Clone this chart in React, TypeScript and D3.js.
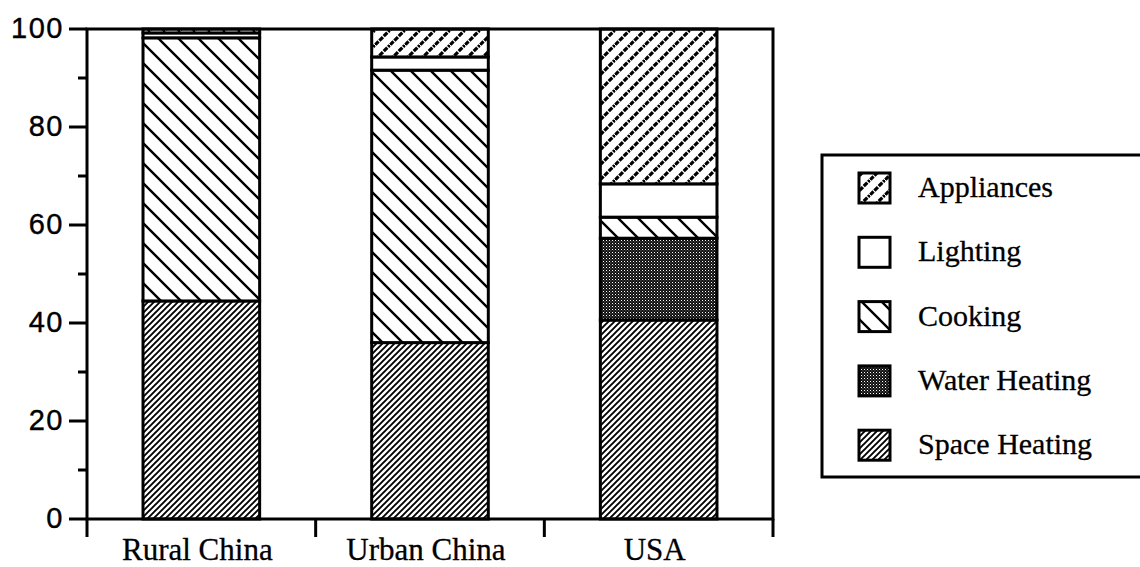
import React from "react";
import * as d3 from "d3";

const categories = ["Rural China", "Urban China", "USA"];
const spaceHeating = [44.5, 36, 40.6];
const waterHeating = [0, 0, 16.7];
const cooking = [53.7, 55.6, 4.3];
const lighting = [1, 2.7, 6.8];
const appliances = [0.8, 5.7, 31.6];

const seriesKeys = ["space", "water", "cooking", "lighting", "appliances"];
const legendOrder = ["appliances", "lighting", "cooking", "water", "space"];
const legendLabels = ["Appliances", "Lighting", "Cooking", "Water Heating", "Space Heating"];
const yTicks = [0, 20, 40, 60, 80, 100];
const yMinorTicks = [10, 30, 50, 70, 90];

const W = 1140;
const H = 567;
const left = 87;
const right = 773;
const top = 29;
const bottom = 519;

const fillFor: Record<string, string> = {
  space: "url(#pSpace)",
  water: "url(#pWater)",
  cooking: "url(#pCooking)",
  lighting: "#ffffff",
  appliances: "url(#pAppl)",
};

export default function App() {
  const table = categories.map((c, i) => ({
    cat: c,
    space: spaceHeating[i],
    water: waterHeating[i],
    cooking: cooking[i],
    lighting: lighting[i],
    appliances: appliances[i],
  }));
  const stacked = d3.stack<any>().keys(seriesKeys)(table);
  const x = d3.scaleBand<string>().domain(categories).range([left, right]).paddingInner(0.49).paddingOuter(0.245);
  const y = d3.scaleLinear().domain([0, 100]).range([bottom, top]);
  const step = x.step();
  const boundaries = d3.range(categories.length + 1).map((i) => left + i * step);

  const serif = "'Liberation Serif', 'Times New Roman', serif";
  const sans = "'Liberation Sans', Arial, sans-serif";

  return (
    <div style={{ position: "absolute", left: 0, top: 0 }}>
      <svg width={W} height={H} style={{ display: "block", background: "#fff" }}>
        <defs>
          <pattern id="pSpace" width={6} height={6} patternUnits="userSpaceOnUse">
            <rect width={6} height={6} fill="#fff" />
            <path d="M-1.5,1.5 L1.5,-1.5 M0,6 L6,0 M4.5,7.5 L7.5,4.5" stroke="#000" strokeWidth={1.9} />
          </pattern>
          <pattern id="pCooking" width={20} height={20} patternUnits="userSpaceOnUse">
            <rect width={20} height={20} fill="#fff" />
            <path d="M-5,15 L5,25 M0,0 L20,20 M15,-5 L25,5" stroke="#000" strokeWidth={2.4} />
          </pattern>
          <pattern id="pAppl" width={15} height={15} patternUnits="userSpaceOnUse">
            <rect width={15} height={15} fill="#fff" />
            <path d="M-4,4 L4,-4 M0,15 L15,0 M11,19 L19,11" stroke="#000" strokeWidth={3.2} strokeDasharray="5 1.2" />
          </pattern>
          <pattern id="pWater" width={3} height={3} patternUnits="userSpaceOnUse">
            <rect width={3} height={3} fill="#111" />
            <rect x={0} y={0} width={1} height={1} fill="#fff" />
            <rect x={1.5} y={1.5} width={0.8} height={0.8} fill="#bbb" />
          </pattern>
        </defs>

        {/* bars */}
        {stacked.map((layer) => (
          <g key={layer.key}>
            {layer.map((d, i) => {
              const h = y(d[0]) - y(d[1]);
              if (h <= 0) return null;
              return (
                <rect
                  key={i}
                  x={x(categories[i])!}
                  y={y(d[1])}
                  width={x.bandwidth()}
                  height={h}
                  fill={fillFor[layer.key as string]}
                  stroke="#000"
                  strokeWidth={3}
                />
              );
            })}
          </g>
        ))}

        {/* frame */}
        <rect x={left} y={top} width={right - left} height={bottom - top} fill="none" stroke="#000" strokeWidth={3} />
        {boundaries.map((bx, i) => (
          <line key={i} x1={bx} x2={bx} y1={bottom} y2={bottom + 18} stroke="#000" strokeWidth={3} />
        ))}

        {/* y ticks */}
        {yTicks.map((t) => (
          <g key={t}>
            <line x1={left - 18} x2={left} y1={y(t)} y2={y(t)} stroke="#000" strokeWidth={3} />
            <text x={left - 23} y={y(t) + 9} textAnchor="end" fontFamily={sans} fontSize={29} letterSpacing={1.5} fill="#000" stroke="#000" strokeWidth={0.4}>
              {t}
            </text>
          </g>
        ))}
        {yMinorTicks.map((t) => (
          <line key={t} x1={left - 9} x2={left} y1={y(t)} y2={y(t)} stroke="#000" strokeWidth={3} />
        ))}

        {/* x labels */}
        {categories.map((c) => (
          <text key={c} x={x(c)! + x.bandwidth() / 2 - 4} y={560} textAnchor="middle" fontFamily={serif} fontSize={31} fill="#000" stroke="#000" strokeWidth={0.3}>
            {c}
          </text>
        ))}

        {/* legend */}
        <rect x={822} y={155} width={340} height={322} fill="#fff" stroke="#000" strokeWidth={3} />
        {legendOrder.map((k, i) => {
          const cy = 188 + i * 64.3;
          return (
            <g key={k}>
              <rect x={859} y={cy - 15} width={31} height={30} fill={fillFor[k]} stroke="#000" strokeWidth={3} />
              <text x={918} y={cy + 9} fontFamily={serif} fontSize={30} fill="#000" stroke="#000" strokeWidth={0.3}>
                {legendLabels[i]}
              </text>
            </g>
          );
        })}
      </svg>
    </div>
  );
}
